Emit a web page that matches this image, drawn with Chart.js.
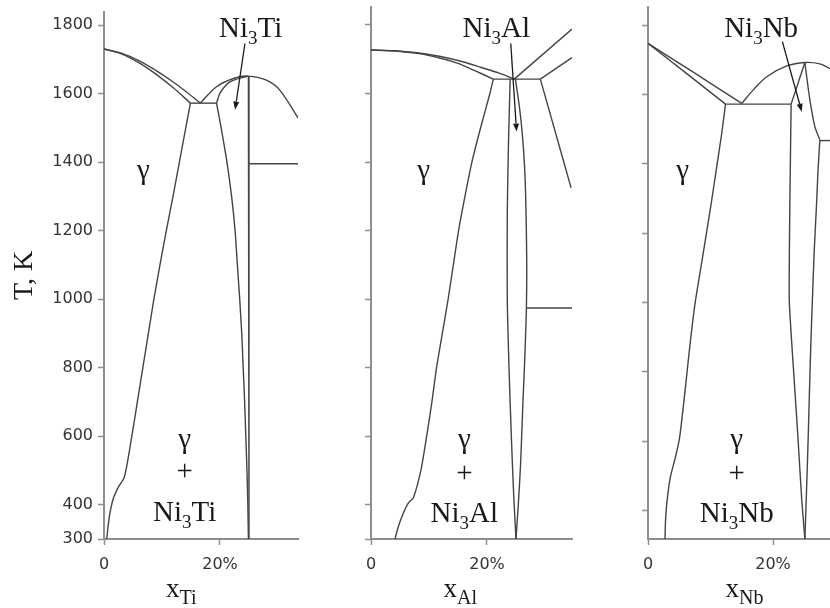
<!DOCTYPE html>
<html>
<head>
<meta charset="utf-8">
<script src="https://cdn.jsdelivr.net/npm/chart.js@4.4.1/dist/chart.umd.min.js"></script>
<style>
  html, body { margin: 0; padding: 0; background: #fff; }
  #wrap { position: relative; width: 830px; height: 608px; overflow: hidden; }
  #wrap canvas { position: absolute; top: 0; }
</style>
</head>
<body>
<div id="wrap">
  <canvas id="pTi" width="300" height="608" style="left:0px"></canvas>
  <canvas id="pAl" width="275" height="608" style="left:300px"></canvas>
  <canvas id="pNb" width="255" height="608" style="left:575px"></canvas>
</div>
<script>
// ---- Phase boundaries: [composition %, temperature K] ----

// Ni–Ti
const tiLiquidusGamma = [[0,1730],[3,1718],[6,1696],[9,1667],[12,1633],[14.5,1601],[16.6,1572]];
const tiSolidusGamma  = [[0,1730],[3,1716],[6,1690],[9,1656],[12,1616],[14.9,1572]];
const tiEutectic      = [[14.9,1572],[19.4,1572]];
const tiLiquidusNi3Ti = [[16.6,1572],[19.4,1620],[22.3,1644],[24.8,1651],[28,1639],[30.3,1610],[33.45,1529]];
const tiSolidusNi3Ti  = [[19.4,1572],[20,1601],[21.7,1634],[24.8,1651]];
const tiNi3TiRight    = [[24.9,1651],[25,300]];
const tiNi3TiLeft     = [[19.4,1572],[20.2,1500],[21.2,1400],[22.0,1300],[22.6,1200],[23.0,1100],[23.4,1000],[23.75,900],[24.0,800],[24.25,700],[24.45,600],[24.65,500],[24.8,400],[24.9,300]];
const tiIsotherm      = [[25,1395],[33.45,1395]];
const tiSolvus        = [[14.9,1572],[14.1,1500],[13.0,1400],[11.9,1300],[10.75,1200],[9.65,1100],[8.6,1000],[7.65,900],[6.7,800],[5.75,700],[4.8,600],[4.0,520],[3.45,478],[2.5,452],[1.6,418],[0.92,365],[0.46,300]];

// Ni–Al
const alLiquidusGamma = [[0,1727],[4,1725],[8,1719],[12,1708],[16,1692],[19,1676],[22,1660],[24.7,1642]];
const alSolidusGamma  = [[0,1727],[4,1724],[8,1717],[12,1703],[15,1688],[18,1666],[21.1,1642]];
const alPeritectic    = [[21.1,1642],[29.2,1642]];
const alBetaLiquidus  = [[24.7,1642],[34.66,1788]];
const alBetaSolidus   = [[29.2,1642],[34.66,1705]];
const alNi3AlBeta     = [[29.2,1642],[34.5,1325]];
const alNi3AlLeft     = [[24.0,1642],[23.7,1450],[23.5,1250],[23.5,1000],[23.8,800],[24.2,600],[24.6,430],[25,300]];
const alNi3AlRight    = [[24.9,1642],[25.6,1560],[26.1,1480],[26.5,1380],[26.7,1280],[26.85,1120],[26.8,975],[26.5,820],[26.2,700],[25.8,520],[25.4,400],[25,300]];
const alIsotherm      = [[26.8,974],[34.66,974]];
const alSolvus        = [[21.1,1642],[20.5,1600],[18.9,1500],[17.4,1400],[16.2,1300],[15.1,1200],[14.2,1100],[13.3,1000],[12.3,900],[11.3,800],[10.5,700],[9.6,600],[8.6,500],[7.3,420],[6.4,404],[5.57,375],[4.71,336],[4.14,300]];

// Ni–Nb
const nbLiquidusGamma = [[0,1747],[7.25,1664],[15,1574]];
const nbSolidusGamma  = [[0,1747],[6.2,1660],[12.4,1572]];
const nbEutectic      = [[12.4,1572],[22.9,1572]];
const nbLiquidusNi3Nb = [[15,1574],[16.85,1613],[19,1651],[22.2,1682],[25.1,1692],[27.5,1688],[29.12,1674]];
const nbSolidusNi3Nb  = [[22.9,1572],[25.1,1692]];
const nbNi3NbUpper    = [[25.1,1692],[25.9,1584],[26.7,1507],[27.5,1469]];
const nbIsotherm      = [[27.5,1467],[29.12,1467]];
const nbNi3NbLeft     = [[22.9,1572],[22.7,1290],[22.6,1007],[23.25,815],[23.95,623],[24.6,431],[25.1,319]];
const nbNi3NbRight    = [[27.5,1469],[27.2,1380],[27.0,1296],[26.6,1150],[26.3,1007],[26.0,850],[25.65,623],[25.35,450],[25.1,319]];
const nbSolvus        = [[12.4,1572],[11.8,1488],[11.0,1392],[10.2,1296],[9.35,1200],[8.45,1100],[7.55,1000],[6.85,900],[6.25,800],[5.65,700],[5.05,610],[4.4,555],[3.55,495],[3.0,420],[2.8,370],[2.72,319]];

// Axis ticks
const tempTicks   = [300,400,600,800,1000,1200,1400,1600,1800];
const tempTicksNb = [400,600,800,1000,1200,1400,1600,1800];
const compTicks   = [0,20];

// ---- Styling ----
const SERIF = '"Liberation Serif", "Times New Roman", serif';
const SANS  = '"DejaVu Sans", "Verdana", sans-serif';
const LINE  = '#444444';
const AXIS  = '#8e8e8e';
const TEXT  = '#1a1a1a';

function curve(pts, tension) {
  return {
    data: pts.map(p => ({x: p[0], y: p[1]})),
    borderColor: LINE,
    borderWidth: 1.4,
    pointRadius: 0,
    pointHoverRadius: 0,
    fill: false,
    tension: tension
  };
}

// Draw a run of text pieces, some set as subscripts
function richText(ctx, parts, x, y, size, subSize, subDrop, align) {
  const widths = parts.map(([t, sub]) => {
    ctx.font = (sub ? subSize : size) + 'px ' + SERIF;
    return ctx.measureText(t).width;
  });
  const total = widths.reduce((a, b) => a + b, 0);
  let cx = align === 'center' ? x - total / 2 : x;
  ctx.textAlign = 'left';
  ctx.textBaseline = 'alphabetic';
  parts.forEach(([t, sub], i) => {
    ctx.font = (sub ? subSize : size) + 'px ' + SERIF;
    ctx.fillText(t, cx, sub ? y + subDrop : y);
    cx += widths[i];
  });
}

function arrow(ctx, x1, y1, x2, y2) {
  const ang = Math.atan2(y2 - y1, x2 - x1);
  const head = 8, half = 3;
  ctx.strokeStyle = '#1a1a1a';
  ctx.fillStyle = '#1a1a1a';
  ctx.lineWidth = 1.3;
  ctx.beginPath();
  ctx.moveTo(x1, y1);
  ctx.lineTo(x2 - head * Math.cos(ang), y2 - head * Math.sin(ang));
  ctx.stroke();
  ctx.beginPath();
  ctx.moveTo(x2, y2);
  ctx.lineTo(x2 - head * Math.cos(ang) + half * Math.sin(ang), y2 - head * Math.sin(ang) - half * Math.cos(ang));
  ctx.lineTo(x2 - head * Math.cos(ang) - half * Math.sin(ang), y2 - head * Math.sin(ang) + half * Math.cos(ang));
  ctx.closePath();
  ctx.fill();
}

// Phase labels, arrow and composition-axis title
const phaseNotes = {
  id: 'phaseNotes',
  afterDraw(chart, args, opts) {
    const ctx = chart.ctx;
    const xs = chart.scales.x, ys = chart.scales.y;
    ctx.save();
    ctx.fillStyle = TEXT;
    (opts.labels || []).forEach(l => {
      richText(ctx, l.parts, xs.getPixelForValue(l.x), ys.getPixelForValue(l.t), 29, 19, 7, 'center');
    });
    if (opts.arrow) {
      const a = opts.arrow;
      arrow(ctx, xs.getPixelForValue(a[0]), ys.getPixelForValue(a[1]),
                 xs.getPixelForValue(a[2]), ys.getPixelForValue(a[3]));
    }
    if (opts.axisTitle) {
      ctx.fillStyle = TEXT;
      richText(ctx, opts.axisTitle.parts, xs.getPixelForValue(opts.axisTitle.x),
               chart.chartArea.bottom + 58, 27, 20, 7, 'left');
    }
    ctx.restore();
  }
};

function makePanel(cfg) {
  new Chart(document.getElementById(cfg.id), {
    type: 'line',
    data: { datasets: cfg.curves },
    plugins: [phaseNotes],
    options: {
      responsive: false,
      animation: false,
      devicePixelRatio: 1,
      layout: { padding: { top: cfg.padTop, right: cfg.padRight, left: 0, bottom: 0 } },
      plugins: {
        legend: { display: false },
        tooltip: { enabled: false },
        phaseNotes: { labels: cfg.labels, arrow: cfg.arrow, axisTitle: cfg.axisTitle }
      },
      scales: {
        x: {
          type: 'linear',
          min: 0, max: cfg.xMax,
          afterBuildTicks: s => { s.ticks = compTicks.map(v => ({value: v})); },
          afterFit: s => { s.height = 69; s.paddingLeft = 0; s.paddingRight = 0; },
          grid: { drawOnChartArea: false, drawTicks: true, tickLength: 6, tickColor: AXIS, tickWidth: 1.5 },
          border: { display: true, color: AXIS, width: 2 },
          ticks: {
            callback: v => v === 0 ? '0' : v + '%',
            font: { family: SANS, size: 16 },
            color: '#333', padding: 10, maxRotation: 0
          }
        },
        y: {
          type: 'linear',
          min: cfg.yMin, max: cfg.yMax,
          afterBuildTicks: s => { s.ticks = cfg.yTicks.map(v => ({value: v})); },
          afterFit: s => { s.width = cfg.axisW; s.paddingTop = 0; s.paddingBottom = 0; },
          grid: { drawOnChartArea: false, drawTicks: true, tickLength: 6, tickColor: AXIS, tickWidth: 1.5 },
          border: { display: true, color: AXIS, width: 2 },
          ticks: {
            callback: v => cfg.yLabels ? String(v) : '',
            font: { family: SANS, size: 16 },
            color: '#333', padding: 5
          },
          title: cfg.yTitle ? {
            display: true, text: 'T, K', color: TEXT,
            font: { family: SERIF, size: 28 }, padding: { top: 8, bottom: 0 }
          } : { display: false }
        }
      }
    }
  });
}

makePanel({
  id: 'pTi', axisW: 104, padTop: 12, padRight: 2,
  xMax: 33.45, yMin: 300, yMax: 1838, yTicks: tempTicks, yLabels: true, yTitle: true,
  curves: [
    curve(tiLiquidusGamma, 0.25), curve(tiSolidusGamma, 0.25), curve(tiEutectic, 0),
    curve(tiLiquidusNi3Ti, 0.35), curve(tiSolidusNi3Ti, 0.3), curve(tiNi3TiRight, 0),
    curve(tiNi3TiLeft, 0.25), curve(tiIsotherm, 0), curve(tiSolvus, 0.2)
  ],
  labels: [
    { parts: [['Ni',0],['3',1],['Ti',0]], x: 25.3, t: 1766 },
    { parts: [['γ',0]], x: 6.8, t: 1351 },
    { parts: [['γ',0]], x: 13.9, t: 567 },
    { parts: [['+',0]], x: 13.9, t: 471 },
    { parts: [['Ni',0],['3',1],['Ti',0]], x: 13.9, t: 353 }
  ],
  arrow: [24.3, 1746, 22.6, 1553],
  axisTitle: { parts: [['x',0],['Ti',1]], x: 10.7 }
});

makePanel({
  id: 'pAl', axisW: 71, padTop: 7, padRight: 3,
  xMax: 34.66, yMin: 300, yMax: 1852.5, yTicks: tempTicks, yLabels: false, yTitle: false,
  curves: [
    curve(alLiquidusGamma, 0.25), curve(alSolidusGamma, 0.25), curve(alPeritectic, 0),
    curve(alBetaLiquidus, 0), curve(alBetaSolidus, 0), curve(alNi3AlBeta, 0),
    curve(alNi3AlLeft, 0.25), curve(alNi3AlRight, 0.25), curve(alIsotherm, 0), curve(alSolvus, 0.2)
  ],
  labels: [
    { parts: [['Ni',0],['3',1],['Al',0]], x: 21.6, t: 1766 },
    { parts: [['γ',0]], x: 9.1, t: 1351 },
    { parts: [['γ',0]], x: 16.1, t: 567 },
    { parts: [['+',0]], x: 16.1, t: 466 },
    { parts: [['Ni',0],['3',1],['Al',0]], x: 16.1, t: 350 }
  ],
  arrow: [24.1, 1746, 25.1, 1489],
  axisTitle: { parts: [['x',0],['Al',1]], x: 12.5 }
});

makePanel({
  id: 'pNb', axisW: 73, padTop: 7, padRight: 0,
  xMax: 29.12, yMin: 318.7, yMax: 1851.9, yTicks: tempTicksNb, yLabels: false, yTitle: false,
  curves: [
    curve(nbLiquidusGamma, 0.2), curve(nbSolidusGamma, 0.2), curve(nbEutectic, 0),
    curve(nbLiquidusNi3Nb, 0.35), curve(nbSolidusNi3Nb, 0), curve(nbNi3NbUpper, 0.3),
    curve(nbIsotherm, 0), curve(nbNi3NbLeft, 0.15), curve(nbNi3NbRight, 0.25), curve(nbSolvus, 0.2)
  ],
  labels: [
    { parts: [['Ni',0],['3',1],['Nb',0]], x: 18.1, t: 1766 },
    { parts: [['γ',0]], x: 5.55, t: 1356 },
    { parts: [['γ',0]], x: 14.2, t: 582 },
    { parts: [['+',0]], x: 14.2, t: 484 },
    { parts: [['Ni',0],['3',1],['Nb',0]], x: 14.2, t: 369 }
  ],
  arrow: [21.5, 1752, 24.6, 1550],
  axisTitle: { parts: [['x',0],['Nb',1]], x: 12.4 }
});
</script>
</body>
</html>
